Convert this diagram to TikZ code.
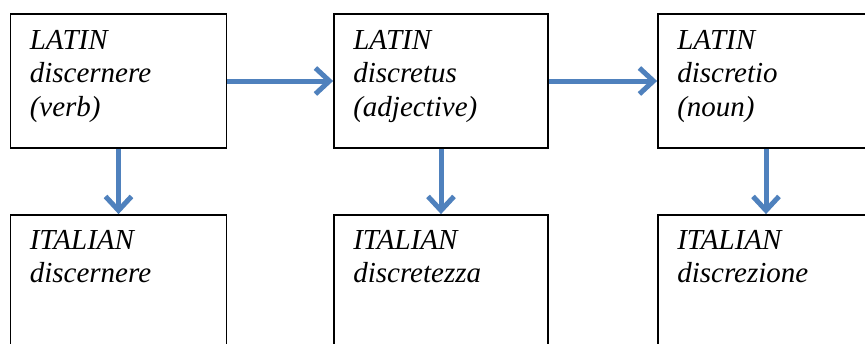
\documentclass[tikz,border=0pt]{standalone}
\usepackage{fontspec}
\setmainfont{Liberation Serif}
\usetikzlibrary{arrows.meta}
\definecolor{arrowblue}{RGB}{79,129,189}
\begin{document}
\begin{tikzpicture}[x=1pt,y=-1pt,
  wordbox/.style={draw=black,line width=1.8pt,minimum width=216pt,minimum height=134pt,inner sep=0pt,fill=white},
  wordtext/.style={anchor=north west,inner sep=0pt,align=left,font=\fontsize{29}{33.5}\selectfont\itshape},
  flow/.style={draw=arrowblue,line width=5pt,-{Straight Barb[length=14pt,width=26pt,line width=5pt]}}]
\useasboundingbox (0,0) rectangle (865,343);
\clip (0,0) rectangle (865,343);
\fill[white] (0,0) rectangle (865,343);
\node[wordbox] (a1) at (118.5,81) {};
\node[wordbox,minimum width=214pt] (a2) at (441,81) {};
\node[wordbox] (a3) at (766,81) {};
\node[wordbox] (b1) at (118.5,282) {};
\node[wordbox,minimum width=214pt] (b2) at (441,282) {};
\node[wordbox] (b3) at (766,282) {};
\node[wordtext] (ta1) at ([xshift=20pt,yshift=-17pt]a1.north west) {LATIN\\discernere\\(verb)};
\node[wordtext] (ta2) at ([xshift=20pt,yshift=-17pt]a2.north west) {LATIN\\discretus\\(adjective)};
\node[wordtext] (ta3) at ([xshift=20pt,yshift=-17pt]a3.north west) {LATIN\\discretio\\(noun)};
\node[wordtext] (tb1) at ([xshift=20pt,yshift=-16pt]b1.north west) {ITALIAN\\discernere};
\node[wordtext] (tb2) at ([xshift=20pt,yshift=-16pt]b2.north west) {ITALIAN\\discretezza};
\node[wordtext] (tb3) at ([xshift=20pt,yshift=-16pt]b3.north west) {ITALIAN\\discrezione};
\draw[flow] (a1.east) -- (a2.west);
\draw[flow] (a2.east) -- (a3.west);
\draw[flow] (a1.south) -- (b1.north);
\draw[flow] (a2.south) -- (b2.north);
\draw[flow] (a3.south) -- (b3.north);
\end{tikzpicture}
\end{document}
